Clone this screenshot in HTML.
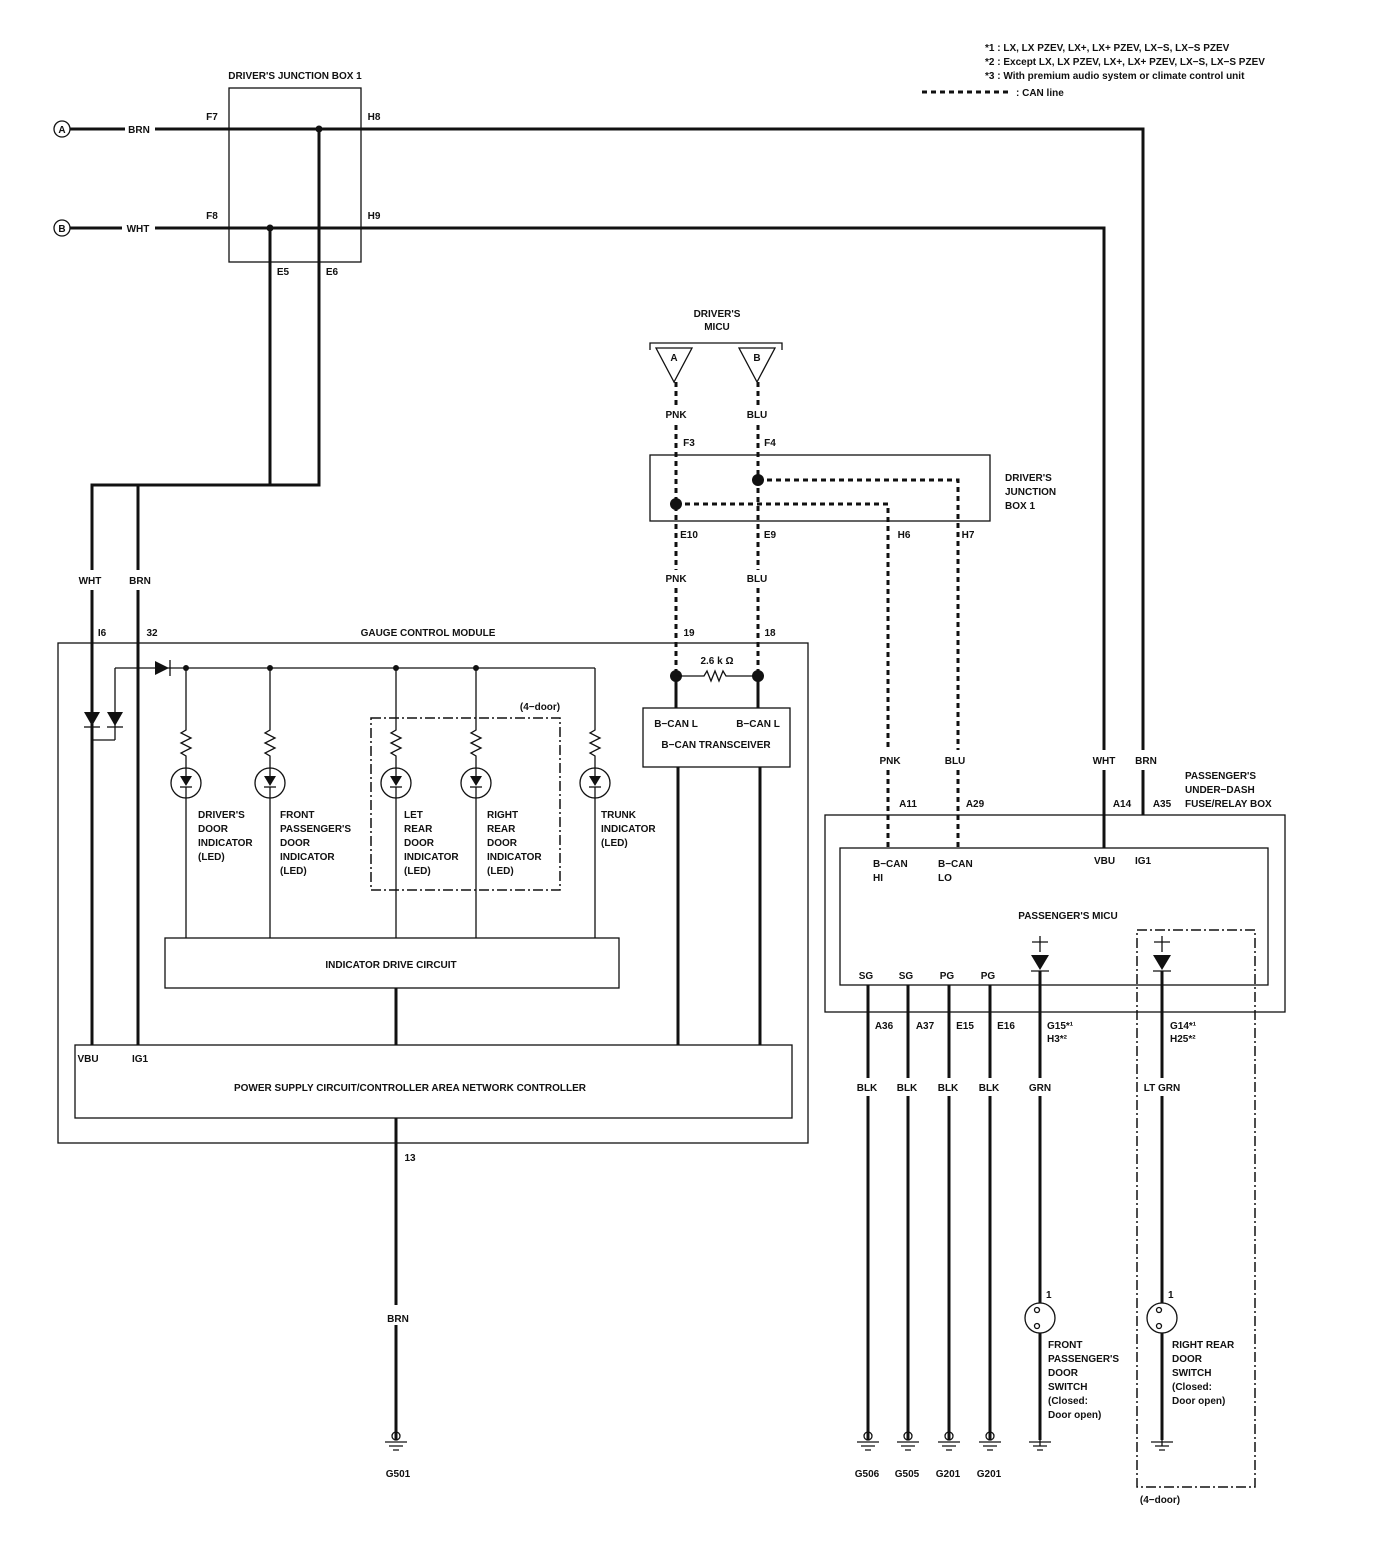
<!DOCTYPE html>
<html><head><meta charset="utf-8"><style>
html,body{margin:0;padding:0;background:#fff}
svg{display:block}
text{font-family:"Liberation Sans",sans-serif;font-size:10px;font-weight:bold;fill:#111}
.m{text-anchor:middle}
.w{stroke:#111;stroke-width:3;fill:none}
.t{stroke:#111;stroke-width:1.3;fill:none}
.d{stroke:#111;stroke-width:3;fill:none;stroke-dasharray:5,4}
.dd{stroke:#111;stroke-width:1.5;fill:none;stroke-dasharray:10,3,2,3}
</style></head><body>
<svg width="1376" height="1544" viewBox="0 0 1376 1544">
<defs>
<g id="br">
<path d="M0 0 V62 l-5 3 l10 5 l-10 5 l10 5 l-10 5 l5 3 V100" class="t" stroke-width="2"/>
<circle cx="0" cy="115" r="15" class="t" stroke-width="2"/>
<path d="M-6 108 H6 L0 118 Z" fill="#111"/><line x1="-6" y1="119" x2="6" y2="119" class="t"/>
<path d="M0 100 V108 M0 119 V270" class="t" stroke-width="2.5"/>
</g>
<g id="gnd"><circle cx="0" cy="1436" r="4" class="t"/><path d="M-11 1442 H11 M-7 1446 H7 M-3 1450 H3" class="t"/></g>
<g id="sw">
<path d="M-8 942 H8 M0 936 V952" class="t" stroke-width="2"/>
<path d="M-9 955 H9 L0 970 Z" fill="#111"/><line x1="-9" y1="971" x2="9" y2="971" class="t" stroke-width="2"/>
<path d="M0 971 V1078 M0 1096 V1303 M0 1333 V1440" class="w"/>
<circle cx="0" cy="1318" r="15" class="t" stroke-width="2"/>
<circle cx="-3" cy="1310" r="2.5" class="t"/><circle cx="-3" cy="1326" r="2.5" class="t"/>
<path d="M0 1440 V1446" class="t"/>
<path d="M-11 1442 H11 M-7 1446 H7 M-3 1450 H3" class="t"/>
</g>
</defs>
<!-- legend -->
<text x="985" y="51">*1  :  LX, LX PZEV, LX+, LX+ PZEV, LX−S, LX−S PZEV</text>
<text x="985" y="65">*2  :  Except LX, LX PZEV, LX+, LX+ PZEV, LX−S, LX−S PZEV</text>
<text x="985" y="79">*3  :  With premium audio system or climate control unit</text>
<line x1="922" y1="92" x2="1012" y2="92" class="d"/>
<text x="1016" y="96">:  CAN line</text>

<!-- junction box 1 -->
<text x="295" y="79" class="m">DRIVER'S JUNCTION BOX 1</text>
<rect x="229" y="88" width="132" height="174" class="t"/>
<circle cx="62" cy="129" r="8" class="t"/><text x="62" y="133" class="m">A</text>
<circle cx="62" cy="228" r="8" class="t"/><text x="62" y="232" class="m">B</text>
<path d="M70 129 H125 M155 129 H1143 V750 M1143 770 V815" class="w"/>
<text x="139" y="133" class="m">BRN</text>
<path d="M70 228 H122 M155 228 H1104 V750 M1104 770 V848" class="w"/>
<text x="138" y="232" class="m">WHT</text>
<text x="212" y="120" class="m">F7</text><text x="374" y="120" class="m">H8</text>
<text x="212" y="219" class="m">F8</text><text x="374" y="219" class="m">H9</text>
<circle cx="319" cy="129" r="3.5" fill="#111"/><circle cx="270" cy="228" r="3.5" fill="#111"/>
<path d="M319 129 V485 H138 V570 M138 590 V1045" class="w"/>
<path d="M270 228 V485 H92 V570 M92 590 V1045" class="w"/>
<text x="283" y="275" class="m">E5</text><text x="332" y="275" class="m">E6</text>
<text x="90" y="584" class="m">WHT</text><text x="140" y="584" class="m">BRN</text>
<text x="102" y="636" class="m">I6</text><text x="152" y="636" class="m">32</text>

<!-- driver's MICU -->
<text x="717" y="317" class="m">DRIVER'S</text><text x="717" y="330" class="m">MICU</text>
<path d="M650 350 V343 H782 V350" class="t"/>
<path d="M656 348 H692 L674 382 Z" class="t"/><text x="674" y="361" class="m">A</text>
<path d="M739 348 H775 L757 382 Z" class="t"/><text x="757" y="361" class="m">B</text>
<path d="M676 382 V405 M676 425 V570 M676 588 V676" class="d"/>
<path d="M758 382 V405 M758 425 V570 M758 588 V676" class="d"/>
<text x="676" y="418" class="m">PNK</text><text x="757" y="418" class="m">BLU</text>
<text x="689" y="446" class="m">F3</text><text x="770" y="446" class="m">F4</text>
<rect x="650" y="455" width="340" height="66" class="t"/>
<circle cx="676" cy="504" r="6" fill="#111"/><circle cx="758" cy="480" r="6" fill="#111"/>
<path d="M758 480 H958 V750 M958 770 V848" class="d"/>
<path d="M676 504 H888 V750 M888 770 V848" class="d"/>
<text x="1005" y="481">DRIVER'S</text><text x="1005" y="495">JUNCTION</text><text x="1005" y="509">BOX 1</text>
<text x="689" y="538" class="m">E10</text><text x="770" y="538" class="m">E9</text>
<text x="904" y="538" class="m">H6</text><text x="968" y="538" class="m">H7</text>
<text x="676" y="582" class="m">PNK</text><text x="757" y="582" class="m">BLU</text>
<text x="689" y="636" class="m">19</text><text x="770" y="636" class="m">18</text>

<!-- gauge control module -->
<text x="428" y="636" class="m">GAUGE CONTROL MODULE</text>
<rect x="58" y="643" width="750" height="500" class="t"/>
<circle cx="676" cy="676" r="6" fill="#111"/><circle cx="758" cy="676" r="6" fill="#111"/>
<path d="M676 676 H704 l3 -5 l4 10 l4 -10 l4 10 l4 -10 l3 5 H758" class="t" stroke-width="2"/>
<text x="717" y="664" class="m">2.6 k Ω</text>
<path d="M676 676 V708 M758 676 V708" class="w"/>
<rect x="643" y="708" width="147" height="59" class="t"/>
<text x="676" y="727" class="m">B−CAN L</text><text x="758" y="727" class="m">B−CAN L</text>
<text x="716" y="748" class="m">B−CAN TRANSCEIVER</text>
<path d="M678 767 V1045 M760 767 V1045" class="w"/>

<path d="M115 668 V740 M92 740 H115" class="t" stroke-width="2"/>
<path d="M84 712 H100 L92 726 Z" fill="#111"/><line x1="84" y1="727" x2="100" y2="727" class="t" stroke-width="2"/>
<path d="M107 712 H123 L115 726 Z" fill="#111"/><line x1="107" y1="727" x2="123" y2="727" class="t" stroke-width="2"/>
<path d="M115 668 H595" class="t" stroke-width="2"/>
<path d="M155 661 L169 668 L155 675 Z" fill="#111"/><line x1="170" y1="660" x2="170" y2="676" class="t" stroke-width="2"/>
<circle cx="186" cy="668" r="3" fill="#111"/><circle cx="270" cy="668" r="3" fill="#111"/><circle cx="396" cy="668" r="3" fill="#111"/><circle cx="476" cy="668" r="3" fill="#111"/>
<use href="#br" x="186" y="668"/><use href="#br" x="270" y="668"/><use href="#br" x="396" y="668"/><use href="#br" x="476" y="668"/><use href="#br" x="595" y="668"/>
<text x="198" y="818">DRIVER'S</text><text x="198" y="832">DOOR</text><text x="198" y="846">INDICATOR</text><text x="198" y="860">(LED)</text>
<text x="280" y="818">FRONT</text><text x="280" y="832">PASSENGER'S</text><text x="280" y="846">DOOR</text><text x="280" y="860">INDICATOR</text><text x="280" y="874">(LED)</text>
<text x="404" y="818">LET</text><text x="404" y="832">REAR</text><text x="404" y="846">DOOR</text><text x="404" y="860">INDICATOR</text><text x="404" y="874">(LED)</text>
<text x="487" y="818">RIGHT</text><text x="487" y="832">REAR</text><text x="487" y="846">DOOR</text><text x="487" y="860">INDICATOR</text><text x="487" y="874">(LED)</text>
<text x="601" y="818">TRUNK</text><text x="601" y="832">INDICATOR</text><text x="601" y="846">(LED)</text>
<rect x="371" y="718" width="189" height="172" class="dd"/>
<text x="540" y="710" class="m">(4−door)</text>
<rect x="165" y="938" width="454" height="50" class="t"/>
<text x="391" y="968" class="m">INDICATOR DRIVE CIRCUIT</text>
<path d="M396 988 V1045" class="w"/>
<rect x="75" y="1045" width="717" height="73" class="t"/>
<text x="88" y="1062" class="m">VBU</text><text x="140" y="1062" class="m">IG1</text>
<text x="410" y="1091" class="m">POWER SUPPLY CIRCUIT/CONTROLLER AREA NETWORK CONTROLLER</text>
<path d="M396 1118 V1305 M396 1325 V1440" class="w"/>
<text x="410" y="1161" class="m">13</text><text x="398" y="1322" class="m">BRN</text>
<use href="#gnd" x="396"/>
<text x="398" y="1477" class="m">G501</text>

<!-- passenger's box -->
<text x="890" y="764" class="m">PNK</text><text x="955" y="764" class="m">BLU</text>
<text x="1104" y="764" class="m">WHT</text><text x="1146" y="764" class="m">BRN</text>
<text x="908" y="807" class="m">A11</text><text x="975" y="807" class="m">A29</text>
<text x="1122" y="807" class="m">A14</text><text x="1162" y="807" class="m">A35</text>
<text x="1185" y="779">PASSENGER'S</text><text x="1185" y="793">UNDER−DASH</text><text x="1185" y="807">FUSE/RELAY BOX</text>
<rect x="825" y="815" width="460" height="197" class="t"/>
<rect x="840" y="848" width="428" height="137" class="t"/>
<text x="873" y="867">B−CAN</text><text x="873" y="881">HI</text>
<text x="938" y="867">B−CAN</text><text x="938" y="881">LO</text>
<text x="1094" y="864">VBU</text><text x="1135" y="864">IG1</text>
<text x="1068" y="919" class="m">PASSENGER'S MICU</text>
<text x="866" y="979" class="m">SG</text><text x="906" y="979" class="m">SG</text><text x="947" y="979" class="m">PG</text><text x="988" y="979" class="m">PG</text>
<path d="M868 985 V1078 M868 1096 V1440 M908 985 V1078 M908 1096 V1440 M949 985 V1078 M949 1096 V1440 M990 985 V1078 M990 1096 V1440" class="w"/>
<text x="884" y="1029" class="m">A36</text><text x="925" y="1029" class="m">A37</text><text x="965" y="1029" class="m">E15</text><text x="1006" y="1029" class="m">E16</text>
<text x="867" y="1091" class="m">BLK</text><text x="907" y="1091" class="m">BLK</text><text x="948" y="1091" class="m">BLK</text><text x="989" y="1091" class="m">BLK</text>
<use href="#gnd" x="868"/><use href="#gnd" x="908"/><use href="#gnd" x="949"/><use href="#gnd" x="990"/>
<text x="867" y="1477" class="m">G506</text><text x="907" y="1477" class="m">G505</text><text x="948" y="1477" class="m">G201</text><text x="989" y="1477" class="m">G201</text>

<use href="#sw" x="1040"/><use href="#sw" x="1162"/>
<text x="1047" y="1029">G15*¹</text><text x="1047" y="1042">H3*²</text>
<text x="1170" y="1029">G14*¹</text><text x="1170" y="1042">H25*²</text>
<text x="1040" y="1091" class="m">GRN</text><text x="1162" y="1091" class="m">LT GRN</text>
<text x="1046" y="1298">1</text><text x="1168" y="1298">1</text>
<text x="1048" y="1348">FRONT</text><text x="1048" y="1362">PASSENGER'S</text><text x="1048" y="1376">DOOR</text><text x="1048" y="1390">SWITCH</text><text x="1048" y="1404">(Closed:</text><text x="1048" y="1418">Door open)</text>
<text x="1172" y="1348">RIGHT REAR</text><text x="1172" y="1362">DOOR</text><text x="1172" y="1376">SWITCH</text><text x="1172" y="1390">(Closed:</text><text x="1172" y="1404">Door open)</text>
<rect x="1137" y="930" width="118" height="557" class="dd"/>
<text x="1160" y="1503" class="m">(4−door)</text>
</svg>
</body></html>
